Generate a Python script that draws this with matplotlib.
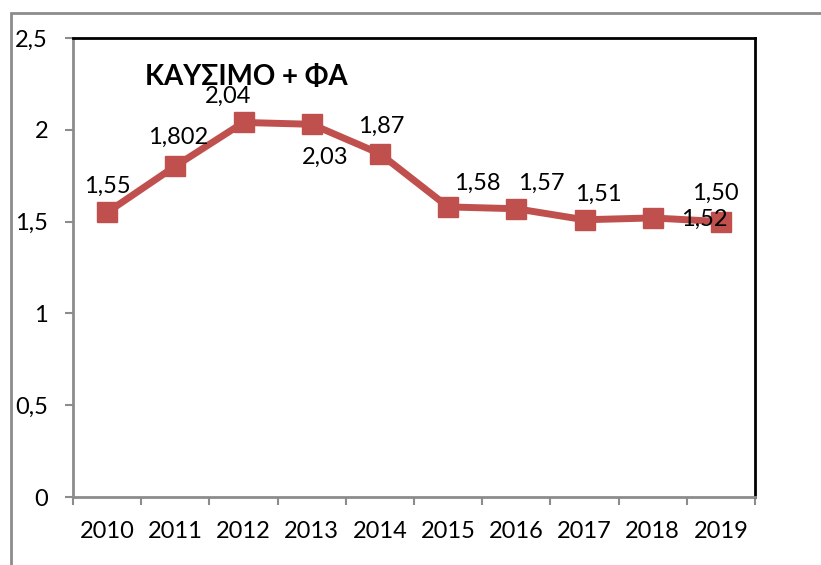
import numpy as np
import matplotlib.pyplot as plt
from matplotlib.patches import Rectangle

plt.rcParams['font.family'] = ['Lato', 'DejaVu Sans']

years = ['2010', '2011', '2012', '2013', '2014', '2015', '2016', '2017', '2018', '2019']
values = [1.55, 1.802, 2.04, 2.03, 1.87, 1.58, 1.57, 1.51, 1.52, 1.50]
labels = ['1,55', '1,802', '2,04', '2,03', '1,87', '1,58', '1,57', '1,51', '1,52', '1,50']
# label offsets in points (dx, dy)
offsets = [(0, 19), (2, 21), (-11, 19), (10, -24), (1, 20), (21, 17), (18, 18), (10, 18), (37, -1), (-4, 20)]

fig = plt.figure(figsize=(8.21, 5.65), dpi=100)
ax = fig.add_axes([73 / 821, 68 / 565, 682 / 821, 459 / 565])

# outer chart border
fig.patches.append(Rectangle((11 / 821, -0.1), 1.0, 1 - 13 / 565 + 0.1,
                             transform=fig.transFigure, fill=False,
                             edgecolor='#8c8c8c', linewidth=2))

x = np.arange(len(years))
ax.plot(x, values, color='#C0504D', linewidth=5, marker='s', markersize=15,
        markerfacecolor='#C0504D', markeredgecolor='#C0504D', zorder=3, clip_on=False)

for xi, v, lab, (dx, dy) in zip(x, values, labels, offsets):
    ax.annotate(lab, (xi, v), xytext=(dx, dy), textcoords='offset points',
                ha='center', va='center', fontsize=17, color='black', zorder=4)

ax.text(0.105, 0.915, 'ΚΑΥΣΙΜΟ + ΦΑ', transform=ax.transAxes, fontsize=20,
        fontweight='bold', ha='left', va='center')

ax.set_xlim(-0.5, len(years) - 0.5)
ax.set_ylim(0, 2.5)
ax.set_yticks([0, 0.5, 1, 1.5, 2, 2.5])
ax.set_yticklabels(['0', '0,5', '1', '1,5', '2', '2,5'], fontsize=17)
ax.set_xticks(x)
ax.set_xticklabels(years, fontsize=17)
ax.set_xticks(np.arange(-0.5, len(years), 1), minor=True)
ax.tick_params(axis='x', which='major', length=0, pad=17)
ax.tick_params(axis='x', which='minor', length=6, width=1.5, color='#8c8c8c', direction='out')
ax.tick_params(axis='y', length=6, width=1.5, color='#8c8c8c', pad=12)

ax.spines['left'].set_color('#8c8c8c')
ax.spines['bottom'].set_color('#8c8c8c')
ax.spines['left'].set_linewidth(2)
ax.spines['bottom'].set_linewidth(2)
ax.spines['top'].set_color('black')
ax.spines['right'].set_color('black')
ax.spines['top'].set_linewidth(2)
ax.spines['right'].set_linewidth(2)

fig.savefig('out.png', dpi=100)
